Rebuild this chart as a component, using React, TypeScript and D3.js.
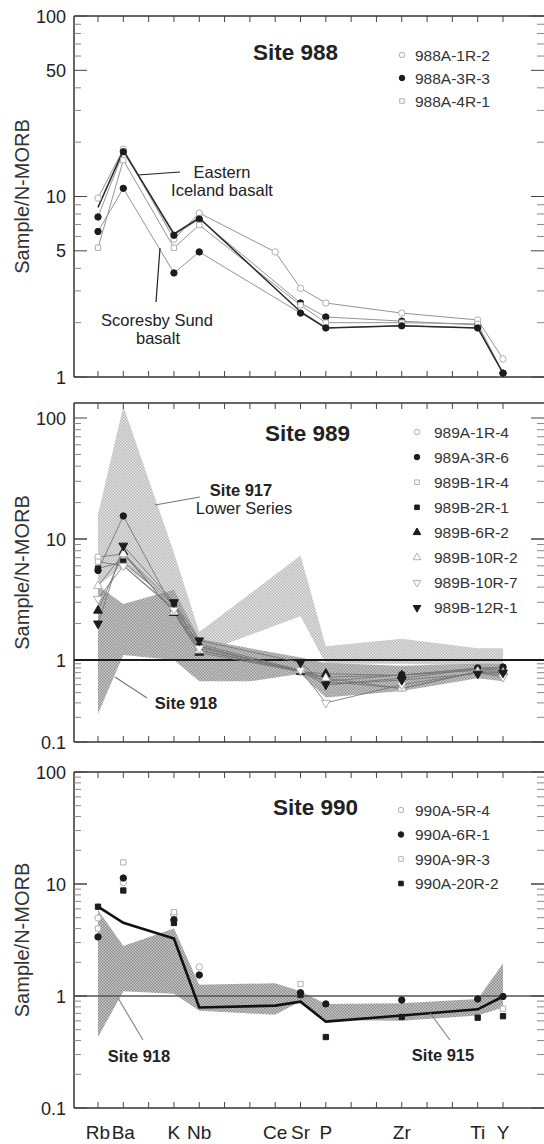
import React, { useEffect, useRef } from 'react';
import * as d3 from 'd3';

// x axis: labelled elements and their slot in the full spidergram order
const elements = ['Rb', 'Ba', 'K', 'Nb', 'Ce', 'Sr', 'P', 'Zr', 'Ti', 'Y'];
const elementSlots = [0, 1, 3, 4, 7, 8, 9, 12, 15, 16];
const slotCount = 17;

// Site 988 (values in element order, null = not plotted)
const s988A1R2 = [9.8, 18.3, 5.8, 8.1, 4.93, 3.1, 2.57, 2.26, 2.07, 1.26];
const s988A3R3 = [7.7, 17.7, 6.1, 7.5, null, 2.57, 2.15, 2.04, 1.94, 1.05];
const s988A4R1 = [5.2, 15.9, 5.2, 6.95, null, 2.5, 2.0, 2.0, 1.97, 1.05];
const eastIceland = [8.7, 18.0, 6.2, 7.6, null, 2.3, 1.87, 1.92, 1.87, 1.05];
const scoresbySund = [6.4, 11.1, 3.77, 4.93, null, 2.26, 1.87, 1.92, 1.87, 1.05];

// Site 989
const s989A1R4 = [7.1, 7.5, 2.9, 1.3, null, 0.72, 0.5, 0.6, 0.78, 0.75];
const s989A3R6 = [5.5, 15.5, 2.6, 1.2, null, 0.72, 0.62, 0.65, 0.8, 0.82];
const s989B1R4 = [6.5, 6.0, 2.7, 1.35, null, 0.75, 0.55, 0.45, 0.72, 0.65];
const s989B2R1 = [5.7, 6.5, 2.85, 1.3, null, 0.72, 0.55, 0.66, 0.78, 0.8];
const s989B6R2 = [2.56, 7.8, 2.45, 1.15, null, 0.72, 0.68, 0.65, 0.75, 0.72];
const s989B10R2 = [4.1, 7.5, 2.5, 1.2, null, 0.75, 0.6, 0.45, 0.72, 0.7];
const s989B10R7 = [3.2, 6.0, 2.6, 1.25, null, 0.75, 0.3, 0.5, 0.7, 0.62];
const s989B12R1 = [2.0, 8.8, 3.0, 1.45, null, 0.93, 0.5, 0.57, 0.68, 0.7];

// Site 990
const s990A5R4 = [4.97, 10.3, 5.3, 1.82, null, 1.02, null, null, null, null];
const s990A6R1 = [3.37, 11.3, 4.8, 1.54, null, 1.07, 0.85, 0.92, 0.94, 0.99];
const s990A9R3 = [4.0, 15.6, 5.6, null, null, 1.28, null, null, null, 0.77];
const s990A20R2 = [6.27, 8.75, 4.49, null, null, 1.02, 0.43, 0.65, 0.64, 0.66];
const site915 = [6.27, 4.5, 3.26, 0.79, 0.82, 0.89, 0.59, 0.67, 0.76, 0.99];

// reference fields (slot, upper, lower)
const band917Slots = [0, 1, 3, 4, 8, 9, 12, 15, 16];
const band917Hi = [16, 125, 7.7, 1.7, 7.3, 1.3, 1.5, 1.25, 1.25];
const band917Lo = [4.1, 6.0, 3.0, 1.12, 2.3, 0.9, 0.9, 0.85, 0.85];
const band918Slots = [0, 1, 3, 4, 6, 8, 9, 12, 15, 16];
const band918Hi = [4.1, 2.9, 3.8, 1.5, 1.25, 1.05, 0.92, 0.85, 0.9, 0.9];
const band918Lo = [0.22, 1.1, 1.0, 0.55, 0.55, 0.68, 0.35, 0.42, 0.6, 0.55];
const band918bSlots = [0, 1, 3, 4, 7, 8, 9, 12, 15, 16];
const band918bHi = [5.85, 2.8, 4.0, 1.26, 1.3, 1.1, 0.85, 0.86, 0.94, 1.95];
const band918bLo = [0.43, 1.1, 1.05, 0.74, 0.68, 0.9, 0.61, 0.6, 0.67, 0.79];

type Sym = 'circle' | 'square' | 'triangle' | 'triangleDown';
interface Series { name: string; values: (number | null)[]; sym: Sym; filled: boolean; }

const series988: Series[] = [
  { name: '988A-1R-2', values: s988A1R2, sym: 'circle', filled: false },
  { name: '988A-3R-3', values: s988A3R3, sym: 'circle', filled: true },
  { name: '988A-4R-1', values: s988A4R1, sym: 'square', filled: false },
];
const series989: Series[] = [
  { name: '989A-1R-4', values: s989A1R4, sym: 'circle', filled: false },
  { name: '989A-3R-6', values: s989A3R6, sym: 'circle', filled: true },
  { name: '989B-1R-4', values: s989B1R4, sym: 'square', filled: false },
  { name: '989B-2R-1', values: s989B2R1, sym: 'square', filled: true },
  { name: '989B-6R-2', values: s989B6R2, sym: 'triangle', filled: true },
  { name: '989B-10R-2', values: s989B10R2, sym: 'triangle', filled: false },
  { name: '989B-10R-7', values: s989B10R7, sym: 'triangleDown', filled: false },
  { name: '989B-12R-1', values: s989B12R1, sym: 'triangleDown', filled: true },
];
const series990: Series[] = [
  { name: '990A-5R-4', values: s990A5R4, sym: 'circle', filled: false },
  { name: '990A-6R-1', values: s990A6R1, sym: 'circle', filled: true },
  { name: '990A-9R-3', values: s990A9R3, sym: 'square', filled: false },
  { name: '990A-20R-2', values: s990A20R2, sym: 'square', filled: true },
];

const FONT = '"Liberation Sans", Arial, Helvetica, sans-serif';
const W = 544;
const H = 1144;
const left = 74;
const right = 544;

const App: React.FC = () => {
  const svgRef = useRef<SVGSVGElement>(null);

  useEffect(() => {
    if (!svgRef.current) return;
    const svg = d3.select(svgRef.current);
    svg.selectAll('*').remove();

    const x = d3.scaleLinear().domain([0, slotCount - 1]).range([98, 503]);

    const defs = svg.append('defs');
    const mkPattern = (id: string, bg: string, dot: string) => {
      const p = defs.append('pattern').attr('id', id).attr('patternUnits', 'userSpaceOnUse')
        .attr('width', 3).attr('height', 3);
      p.append('rect').attr('width', 3).attr('height', 3).attr('fill', bg);
      p.append('rect').attr('width', 1.5).attr('height', 1.5).attr('fill', dot);
      p.append('rect').attr('x', 1.5).attr('y', 1.5).attr('width', 1.5).attr('height', 1.5).attr('fill', dot);
    };
    mkPattern('light', '#e4e4e4', '#b8b8b8');
    mkPattern('dark', '#c4c4c4', '#7c7c7c');

    const symbolPath = (sym: Sym, k: number) => {
      if (sym === 'circle') return d3.symbol().type(d3.symbolCircle).size(32 * k)();
      if (sym === 'square') return d3.symbol().type(d3.symbolSquare).size(28 * k)();
      return d3.symbol().type(d3.symbolTriangle).size(34 * k)();
    };
    const marker = (g: any, s: Series, px: number, py: number, k = 1) => {
      g.append('path')
        .attr('d', symbolPath(s.sym, k))
        .attr('transform', `translate(${px},${py})${s.sym === 'triangleDown' ? ' rotate(180)' : ''}`)
        .attr('fill', s.filled ? '#1c1c1c' : '#fff')
        .attr('stroke', s.filled ? '#1c1c1c' : '#b0b0b0')
        .attr('stroke-width', 1);
    };

    const frame = (g: any, y: any, top: number, bottom: number, labels: number[], minorLong: number[]) => {
      g.append('line').attr('x1', left).attr('x2', right).attr('y1', top).attr('y2', top)
        .attr('stroke', '#333').attr('stroke-width', 1.5);
      g.append('line').attr('x1', left).attr('x2', right).attr('y1', bottom).attr('y2', bottom)
        .attr('stroke', '#333').attr('stroke-width', 1.5);
      g.append('line').attr('x1', left).attr('x2', left).attr('y1', top).attr('y2', bottom)
        .attr('stroke', '#333').attr('stroke-width', 1.5);
      d3.range(slotCount).forEach(i => {
        g.append('line').attr('x1', x(i)).attr('x2', x(i)).attr('y1', top).attr('y2', top + 6)
          .attr('stroke', '#444').attr('stroke-width', 1);
        g.append('line').attr('x1', x(i)).attr('x2', x(i)).attr('y1', bottom).attr('y2', bottom - 6)
          .attr('stroke', '#444').attr('stroke-width', 1);
      });
      const [d0, d1] = d3.extent(y.domain() as number[]) as [number, number];
      for (let dec = d0; dec < d1 * 0.999; dec *= 10) {
        for (let k = 1; k <= 10; k++) {
          const v = k * dec;
          const major = k === 1 || k === 10 || minorLong.includes(v);
          const len = major ? 13 : 7;
          const yy = y(v);
          if (yy < top - 0.5) continue;
          g.append('line').attr('x1', left).attr('x2', left + len).attr('y1', yy).attr('y2', yy)
            .attr('stroke', major ? '#444' : '#888').attr('stroke-width', 1);
          g.append('line').attr('x1', right).attr('x2', right - len).attr('y1', yy).attr('y2', yy)
            .attr('stroke', major ? '#444' : '#888').attr('stroke-width', 1);
        }
      }
      labels.forEach(v => {
        g.append('text').attr('x', 66).attr('y', y(v) + 6.5).attr('text-anchor', 'end')
          .attr('font-size', 18).attr('fill', '#222').text(String(v));
      });
      g.append('text').attr('transform', `translate(29,${(top + bottom) / 2}) rotate(-90)`)
        .attr('text-anchor', 'middle').attr('font-size', 20).attr('fill', '#333').text('Sample/N-MORB');
    };

    const band = (g: any, y: any, slots: number[], hi: number[], lo: number[], fill: string, op: number) => {
      const pts: [number, number][] = [
        ...slots.map((s, i) => [x(s), y(hi[i])] as [number, number]),
        ...slots.map((s, i) => [x(s), y(lo[i])] as [number, number]).reverse(),
      ];
      g.append('path').attr('d', d3.line()(pts) + 'Z').attr('fill', fill).attr('opacity', op);
    };

    const lineGen = (y: any) => d3.line<[number, number | null]>()
      .defined(d => d[1] != null)
      .x(d => x(d[0])).y(d => y(d[1] as number));
    const pairs = (vals: (number | null)[]) => vals.map((v, i) => [elementSlots[i], v] as [number, number | null]);
    const compact = (vals: (number | null)[]) => pairs(vals).filter(d => d[1] != null);

    const legend = (g: any, list: Series[], mx: number, tx: number, y0: number, step: number) => {
      list.forEach((s, i) => {
        const yy = y0 + i * step;
        marker(g, s, mx, yy, 0.75);
        g.append('text').attr('x', tx).attr('y', yy + 5.5).attr('font-size', 15.5).attr('fill', '#333').text(s.name);
      });
    };

    const label = (g: any, txt: string, cx: number, by: number, size: number, bold: boolean, anchor = 'middle') => {
      g.append('text').attr('x', cx).attr('y', by).attr('text-anchor', anchor)
        .attr('font-size', size).attr('font-weight', bold ? 'bold' : 'normal').attr('fill', '#222').text(txt);
    };
    const pointer = (g: any, x1: number, y1: number, x2: number, y2: number, color: string) => {
      g.append('line').attr('x1', x1).attr('y1', y1).attr('x2', x2).attr('y2', y2)
        .attr('stroke', color).attr('stroke-width', 1.2);
    };

    const root = svg.append('g').attr('font-family', FONT);

    // ---------- Site 988 ----------
    {
      const g = root.append('g');
      const y = d3.scaleLog().domain([1, 100]).range([377, 16]);
      frame(g, y, 16, 377, [1, 5, 10, 50, 100], [5, 50]);
      const lg = lineGen(y);
      const sampleLines = [s988A1R2, s988A3R3, s988A4R1, scoresbySund];
      sampleLines.forEach(vals => {
        g.append('path').attr('d', lg(compact(vals))).attr('fill', 'none')
          .attr('stroke', '#959595').attr('stroke-width', 1);
      });
      g.append('path').attr('d', lg(compact(eastIceland))).attr('fill', 'none')
        .attr('stroke', '#2a2a2a').attr('stroke-width', 1.5);
      series988.forEach(s => compact(s.values).forEach(d => marker(g, s, x(d[0]), y(d[1] as number))));
      compact(scoresbySund).forEach(d => marker(g, series988[1], x(d[0]), y(d[1] as number)));
      label(g, 'Site 988', 253, 60, 22.5, true, 'start');
      legend(g, series988, 402, 415, 55, 23);
      label(g, 'Eastern', 222, 178, 16.5, false);
      label(g, 'Iceland basalt', 222, 196, 16.5, false);
      pointer(g, 180, 172, 138, 175, '#222');
      label(g, 'Scoresby Sund', 157, 326, 16.5, false);
      label(g, 'basalt', 158, 344, 16.5, false);
      pointer(g, 156, 302, 160, 248, '#222');
    }

    // ---------- Site 989 ----------
    {
      const g = root.append('g');
      const y = d3.scaleLog().domain([0.1, 1, 10, 100]).range([742, 660, 539, 418]);
      band(g, y, band917Slots, band917Hi, band917Lo, 'url(#light)', 1);
      band(g, y, band918Slots, band918Hi, band918Lo, 'url(#dark)', 0.85);
      frame(g, y, 403, 742, [0.1, 1, 10, 100], []);
      g.append('line').attr('x1', left).attr('x2', right).attr('y1', y(1)).attr('y2', y(1))
        .attr('stroke', '#1a1a1a').attr('stroke-width', 2.2);
      const lg = lineGen(y);
      series989.forEach(s => {
        g.append('path').attr('d', lg(compact(s.values))).attr('fill', 'none')
          .attr('stroke', '#777').attr('stroke-width', 0.9);
      });
      series989.forEach(s => compact(s.values).forEach(d => marker(g, s, x(d[0]), y(d[1] as number))));
      label(g, 'Site 989', 265, 441, 22.5, true, 'start');
      legend(g, series989, 417, 434, 432, 25.1);
      label(g, 'Site 917', 241, 496, 16.5, true);
      label(g, 'Lower Series', 244, 514, 16.5, false);
      pointer(g, 200, 497, 155, 505, '#777');
      label(g, 'Site 918', 186, 709, 16.5, true);
      pointer(g, 147, 698, 115, 677, '#777');
    }

    // ---------- Site 990 ----------
    {
      const g = root.append('g');
      const y = d3.scaleLog().domain([0.1, 100]).range([1108, 772]);
      band(g, y, band918bSlots, band918bHi, band918bLo, 'url(#dark)', 0.9);
      frame(g, y, 772, 1108, [0.1, 1, 10, 100], []);
      g.append('line').attr('x1', left).attr('x2', right).attr('y1', y(1)).attr('y2', y(1))
        .attr('stroke', '#555').attr('stroke-width', 1.6);
      g.append('path').attr('d', lineGen(y)(pairs(site915))).attr('fill', 'none')
        .attr('stroke', '#111').attr('stroke-width', 2.6);
      series990.forEach(s => compact(s.values).forEach(d => marker(g, s, x(d[0]), y(d[1] as number))));
      label(g, 'Site 990', 273, 815, 22.5, true, 'start');
      legend(g, series990, 401, 415, 810, 24.5);
      label(g, 'Site 918', 139, 1062, 16.5, true);
      pointer(g, 143, 1040, 118, 998, '#888');
      label(g, 'Site 915', 443, 1061, 16.5, true);
      pointer(g, 450, 1040, 430, 1013, '#888');
      elements.forEach((el, i) => {
        label(g, el, x(elementSlots[i]), 1139, 19, false);
      });
    }
  }, []);

  return (
    <svg ref={svgRef} width={W} height={H}
      style={{ position: 'absolute', left: 0, top: 0, display: 'block', background: '#fff' }} />
  );
};

export default App;
